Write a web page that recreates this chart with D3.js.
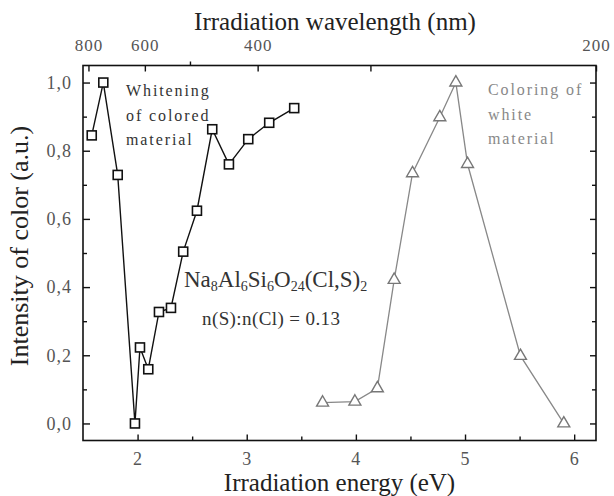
<!DOCTYPE html>
<html>
<head>
<meta charset="utf-8">
<script src="https://cdn.jsdelivr.net/npm/d3@7"></script>
<style>
  html, body { margin: 0; padding: 0; background: #fff; }
  svg { display: block; }
  text { font-family: "Liberation Serif", "Times New Roman", serif; }
</style>
</head>
<body>
<svg id="chart" width="614" height="496"></svg>
<script>
// Whitening of colored material (squares)
const whiteningEnergy = [1.58, 1.686, 1.818, 1.976, 2.022, 2.098, 2.196, 2.306, 2.418, 2.544, 2.684, 2.837, 3.014, 3.206, 3.435];
const whiteningIntensity = [0.845, 1.0, 0.729, 0.0, 0.223, 0.159, 0.327, 0.339, 0.504, 0.624, 0.863, 0.760, 0.834, 0.882, 0.925];

// Coloring of white material (triangles)
const coloringEnergy = [3.695, 3.991, 4.197, 4.351, 4.519, 4.769, 4.916, 5.023, 5.508, 5.905];
const coloringIntensity = [0.061, 0.064, 0.103, 0.421, 0.734, 0.898, 1.0, 0.761, 0.198, 0.0];

// Axis ticks
const energyTicks = [2, 3, 4, 5, 6];
const energyMinorTicks = [2.5, 3.5, 4.5, 5.5];
const intensityTicks = [0, 0.2, 0.4, 0.6, 0.8, 1.0];
const intensityMinorTicks = [0.1, 0.3, 0.5, 0.7, 0.9];
const wavelengthTicks = [800, 600, 400, 300, 200];
const wavelengthLabels = ["800", "600", "400", "", "200"];
const wavelengthMinorTicks = [500];
const hc = 1240; // eV·nm

const svg = d3.select("#chart");
const W = 614, H = 496;
const m = { left: 83, right: 18, top: 65.5, bottom: 55.5 };

const x = d3.scaleLinear().domain([1.5, 6.2]).range([m.left, W - m.right]);
const y = d3.scaleLinear().domain([-0.05, 1.05]).range([H - m.bottom, m.top]);

const commaFmt = d => d3.format(".1f")(d).replace(".", ",");

function styleAxis(g) {
  g.select(".domain").remove();
  g.selectAll(".tick line").attr("stroke", "#111").attr("stroke-width", 1.4);
  g.selectAll(".tick text")
    .attr("font-family", "Liberation Serif, serif")
    .attr("font-size", 18)
    .attr("letter-spacing", 1)
    .attr("fill", "#555");
}

// bottom axis
svg.append("g").attr("transform", `translate(0,${H - m.bottom})`)
  .call(d3.axisBottom(x).tickValues(energyTicks).tickSize(-6).tickPadding(12).tickFormat(d3.format("d")))
  .call(styleAxis);
svg.append("g").attr("transform", `translate(0,${H - m.bottom})`)
  .call(d3.axisBottom(x).tickValues(energyMinorTicks).tickSize(-4).tickFormat(""))
  .call(styleAxis);

// top axis (wavelength)
svg.append("g").attr("transform", `translate(0,${m.top})`)
  .call(d3.axisTop(x).tickValues(wavelengthTicks.map(w => hc / w)).tickSize(-6).tickPadding(14.5)
    .tickFormat((d, i) => wavelengthLabels[i]))
  .call(styleAxis)
  .call(g => g.selectAll(".tick text").attr("font-size", 17));
svg.append("g").attr("transform", `translate(0,${m.top})`)
  .call(d3.axisTop(x).tickValues(wavelengthMinorTicks.map(w => hc / w)).tickSize(4).tickFormat(""))
  .call(styleAxis);

// left axis
svg.append("g").attr("transform", `translate(${m.left},0)`)
  .call(d3.axisLeft(y).tickValues(intensityTicks).tickSize(-7).tickPadding(11).tickFormat(commaFmt))
  .call(styleAxis);
svg.append("g").attr("transform", `translate(${m.left},0)`)
  .call(d3.axisLeft(y).tickValues(intensityMinorTicks).tickSize(-4).tickFormat(""))
  .call(styleAxis);

// right axis
svg.append("g").attr("transform", `translate(${W - m.right},0)`)
  .call(d3.axisRight(y).tickValues(intensityTicks).tickSize(-6).tickFormat(""))
  .call(styleAxis);
svg.append("g").attr("transform", `translate(${W - m.right},0)`)
  .call(d3.axisRight(y).tickValues(intensityMinorTicks).tickSize(-4).tickFormat(""))
  .call(styleAxis);

// frame
svg.append("rect")
  .attr("x", m.left).attr("y", m.top)
  .attr("width", W - m.left - m.right).attr("height", H - m.top - m.bottom)
  .attr("fill", "none").attr("stroke", "#111").attr("stroke-width", 1.6);

// axis titles
svg.append("text").attr("x", 335).attr("y", 30).attr("text-anchor", "middle")
  .attr("font-size", 25).attr("fill", "#222").text("Irradiation wavelength (nm)");
svg.append("text").attr("x", 339.5).attr("y", 491).attr("text-anchor", "middle")
  .attr("font-size", 25).attr("fill", "#222").text("Irradiation energy (eV)");
svg.append("text").attr("transform", "translate(27.5,246) rotate(-90)").attr("text-anchor", "middle")
  .attr("font-size", 26).attr("fill", "#222").text("Intensity of color (a.u.)");

// series
const whitening = whiteningEnergy.map((e, i) => ({ e, v: whiteningIntensity[i] }));
const coloring = coloringEnergy.map((e, i) => ({ e, v: coloringIntensity[i] }));
const line = d3.line().x(d => x(d.e)).y(d => y(d.v));

svg.append("path").datum(coloring).attr("d", line)
  .attr("fill", "none").attr("stroke", "#888").attr("stroke-width", 1.3);
svg.append("g").selectAll("path").data(coloring).join("path")
  .attr("transform", d => `translate(${x(d.e)},${y(d.v)})`)
  .attr("d", d3.symbol(d3.symbolTriangle, 62))
  .attr("fill", "#fff").attr("stroke", "#777").attr("stroke-width", 1.4);

svg.append("path").datum(whitening).attr("d", line)
  .attr("fill", "none").attr("stroke", "#111").attr("stroke-width", 1.4);
svg.append("g").selectAll("rect").data(whitening).join("rect")
  .attr("x", d => x(d.e) - 4.5).attr("y", d => y(d.v) - 4.5)
  .attr("width", 9).attr("height", 9)
  .attr("fill", "#fff").attr("stroke", "#111").attr("stroke-width", 1.6);

// annotations
const note = (lines, x0, y0, color) => {
  const t = svg.append("text").attr("x", x0).attr("y", y0)
    .attr("font-size", 16).attr("letter-spacing", 1.9).attr("fill", color);
  lines.forEach((s, i) => t.append("tspan").attr("x", x0).attr("dy", i ? 24.5 : 0).text(s));
};
note(["Whitening", "of colored", "material"], 126, 96, "#333");
note(["Coloring of", "white", "material"], 488, 95, "#888");

const formula = svg.append("text").attr("x", 184).attr("y", 287).attr("font-size", 23).attr("fill", "#333");
[["Na", false], ["8", true], ["Al", false], ["6", true], ["Si", false], ["6", true], ["O", false], ["24", true], ["(Cl,S)", false], ["2", true]]
  .forEach(([s, sub]) => {
    formula.append("tspan").attr("font-size", sub ? 14 : 23).attr("dy", 0)
      .attr("baseline-shift", sub ? "-30%" : null).text(s);
  });
svg.append("text").attr("x", 202).attr("y", 325).attr("font-size", 19).attr("letter-spacing", 0.4).attr("fill", "#333")
  .text("n(S):n(Cl) = 0.13");
</script>
</body>
</html>
